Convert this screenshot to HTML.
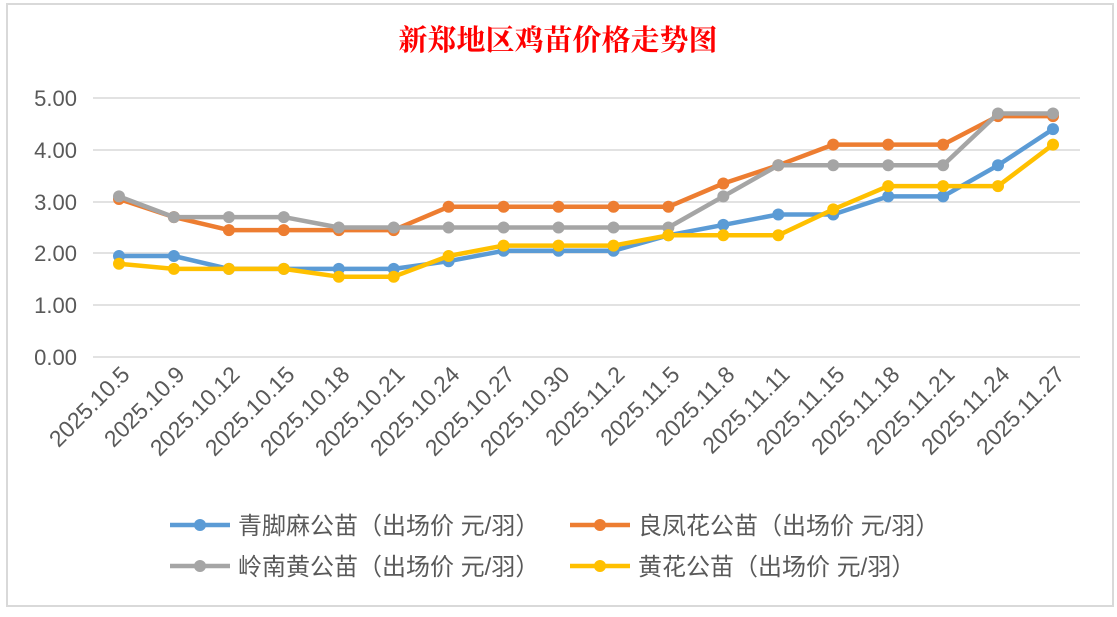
<!DOCTYPE html>
<html><head><meta charset="utf-8"><style>
body{margin:0;background:#fff;width:1117px;height:612px;overflow:hidden}
text{font-family:"Liberation Sans","Noto Sans CJK SC",sans-serif}
text.t{font-family:"Liberation Serif","Noto Serif CJK SC",serif;font-weight:bold}
</style></head><body>
<svg width="1117" height="612" xmlns="http://www.w3.org/2000/svg">
<defs>
<marker id="mb" markerUnits="userSpaceOnUse" markerWidth="14" markerHeight="14" refX="7" refY="7"><circle cx="7" cy="7" r="6" fill="#5B9BD5"/></marker>
<marker id="mo" markerUnits="userSpaceOnUse" markerWidth="14" markerHeight="14" refX="7" refY="7"><circle cx="7" cy="7" r="6" fill="#ED7D31"/></marker>
<marker id="mg" markerUnits="userSpaceOnUse" markerWidth="14" markerHeight="14" refX="7" refY="7"><circle cx="7" cy="7" r="6" fill="#A5A5A5"/></marker>
<marker id="my" markerUnits="userSpaceOnUse" markerWidth="14" markerHeight="14" refX="7" refY="7"><circle cx="7" cy="7" r="6" fill="#FFC000"/></marker>
</defs>
<rect x="7" y="4" width="1106" height="602" fill="#fff" stroke="#d9d9d9" stroke-width="2"/>
<text class="t" x="558" y="50" text-anchor="middle" font-size="29" fill="#FF0000">新郑地区鸡苗价格走势图</text>
<g stroke="#d9d9d9" stroke-width="1.5">
<line x1="93" x2="1080" y1="98" y2="98"/><line x1="93" x2="1080" y1="150" y2="150"/><line x1="93" x2="1080" y1="202" y2="202"/><line x1="93" x2="1080" y1="253" y2="253"/><line x1="93" x2="1080" y1="305" y2="305"/><line x1="93" x2="1080" y1="357" y2="357"/>
</g>
<g font-size="22" fill="#595959" text-anchor="end">
<text x="77" y="106">5.00</text><text x="77" y="158">4.00</text><text x="77" y="210">3.00</text><text x="77" y="261">2.00</text><text x="77" y="313">1.00</text><text x="77" y="365">0.00</text>
</g>
<g font-size="23" fill="#595959" text-anchor="end">
<text transform="translate(131,376) rotate(-45)">2025.10.5</text>
<text transform="translate(186,376) rotate(-45)">2025.10.9</text>
<text transform="translate(241,376) rotate(-45)">2025.10.12</text>
<text transform="translate(296,376) rotate(-45)">2025.10.15</text>
<text transform="translate(351,376) rotate(-45)">2025.10.18</text>
<text transform="translate(406,376) rotate(-45)">2025.10.21</text>
<text transform="translate(461,376) rotate(-45)">2025.10.24</text>
<text transform="translate(516,376) rotate(-45)">2025.10.27</text>
<text transform="translate(571,376) rotate(-45)">2025.10.30</text>
<text transform="translate(626,376) rotate(-45)">2025.11.2</text>
<text transform="translate(681,376) rotate(-45)">2025.11.5</text>
<text transform="translate(736,376) rotate(-45)">2025.11.8</text>
<text transform="translate(791,376) rotate(-45)">2025.11.11</text>
<text transform="translate(846,376) rotate(-45)">2025.11.15</text>
<text transform="translate(901,376) rotate(-45)">2025.11.18</text>
<text transform="translate(956,376) rotate(-45)">2025.11.21</text>
<text transform="translate(1011,376) rotate(-45)">2025.11.24</text>
<text transform="translate(1066,376) rotate(-45)">2025.11.27</text>
</g>
<g fill="none" stroke-width="4.5" stroke-linejoin="round">
<polyline stroke="#5B9BD5" marker-start="url(#mb)" marker-mid="url(#mb)" marker-end="url(#mb)" points="119,256 173.9,256 228.9,268.9 283.8,268.9 338.8,268.9 393.7,268.9 448.6,261.2 503.6,250.8 558.5,250.8 613.5,250.8 668.4,235.3 723.3,224.9 778.3,214.5 833.2,214.5 888.2,196.4 943.1,196.4 998,165.3 1053,129.1"/>
<polyline stroke="#ED7D31" marker-start="url(#mo)" marker-mid="url(#mo)" marker-end="url(#mo)" points="119,199 173.9,217.1 228.9,230.1 283.8,230.1 338.8,230.1 393.7,230.1 448.6,206.8 503.6,206.8 558.5,206.8 613.5,206.8 668.4,206.8 723.3,183.5 778.3,165.3 833.2,144.6 888.2,144.6 943.1,144.6 998,116.1 1053,116.1"/>
<polyline stroke="#A5A5A5" marker-start="url(#mg)" marker-mid="url(#mg)" marker-end="url(#mg)" points="119,196.4 173.9,217.1 228.9,217.1 283.8,217.1 338.8,227.5 393.7,227.5 448.6,227.5 503.6,227.5 558.5,227.5 613.5,227.5 668.4,227.5 723.3,196.4 778.3,165.3 833.2,165.3 888.2,165.3 943.1,165.3 998,113.5 1053,113.5"/>
<polyline stroke="#FFC000" marker-start="url(#my)" marker-mid="url(#my)" marker-end="url(#my)" points="119,263.8 173.9,268.9 228.9,268.9 283.8,268.9 338.8,276.7 393.7,276.7 448.6,256 503.6,245.6 558.5,245.6 613.5,245.6 668.4,235.3 723.3,235.3 778.3,235.3 833.2,209.4 888.2,186.1 943.1,186.1 998,186.1 1053,144.6"/>
</g>
<g stroke-width="4.5">
<line x1="170" x2="230" y1="525" y2="525" stroke="#5B9BD5"/><circle cx="200" cy="525" r="6" fill="#5B9BD5"/>
<line x1="570" x2="630" y1="525" y2="525" stroke="#ED7D31"/><circle cx="600" cy="525" r="6" fill="#ED7D31"/>
<line x1="170" x2="230" y1="566" y2="566" stroke="#A5A5A5"/><circle cx="200" cy="566" r="6" fill="#A5A5A5"/>
<line x1="570" x2="630" y1="566" y2="566" stroke="#FFC000"/><circle cx="600" cy="566" r="6" fill="#FFC000"/>
</g>
<g font-size="24" fill="#595959">
<text x="238" y="534">青脚麻公苗（出场价 元/羽）</text>
<text x="638" y="534">良凤花公苗（出场价 元/羽）</text>
<text x="238" y="575">岭南黄公苗（出场价 元/羽）</text>
<text x="638" y="575">黄花公苗（出场价 元/羽）</text>
</g>
</svg>
</body></html>
